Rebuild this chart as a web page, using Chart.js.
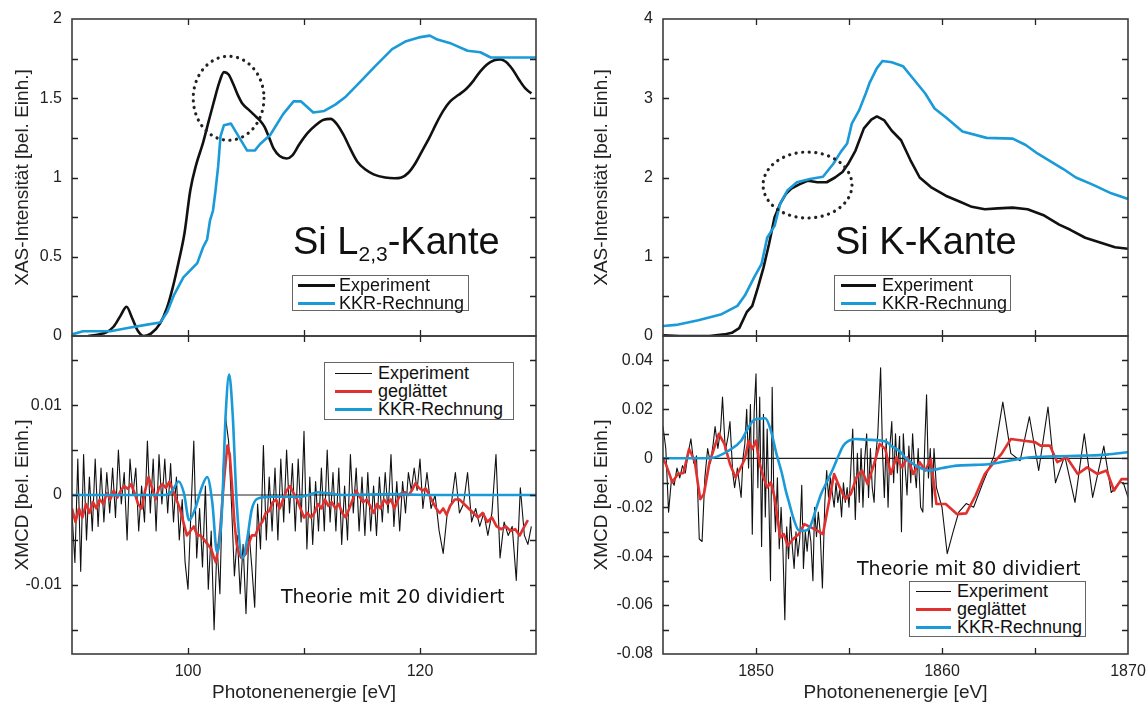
<!DOCTYPE html>
<html>
<head>
<meta charset="utf-8">
<script src="https://cdn.jsdelivr.net/npm/chart.js@4.4.0/dist/chart.umd.min.js"></script>
<style>
  html, body { margin: 0; padding: 0; background: #fff; }
  body { width: 1147px; height: 705px; overflow: hidden; position: relative; font-family: 'Liberation Sans', Arial, sans-serif; }
  .box { position: absolute; }
  .lg { position: absolute; border: 1px solid #666; background: #fff; box-sizing: border-box;
        font-size: 18px; color: #111; z-index: 5; }
  .row { height: 18px; line-height: 18px; display: flex; align-items: center; white-space: nowrap; }
  .smp { display: inline-block; height: 0; }
  .big { position: absolute; font-size: 38px; line-height: 38px; color: #111; white-space: nowrap; z-index: 5; }
  .big sub { font-size: 21px; vertical-align: -7px; line-height: 0; }
  .note { position: absolute; font-family: 'DejaVu Sans', Verdana, sans-serif; font-size: 19px; line-height: 19px;
          color: #111; white-space: nowrap; z-index: 5; }
</style>
</head>
<body>
<div class="box" style="left:0;top:0;width:560px;height:340px"><canvas id="lt"></canvas></div>
<div class="box" style="left:0;top:330px;width:560px;height:375px"><canvas id="lb"></canvas></div>
<div class="box" style="left:560px;top:0;width:620px;height:340px"><canvas id="rt"></canvas></div>
<div class="box" style="left:560px;top:330px;width:620px;height:375px"><canvas id="rb"></canvas></div>

<div class="big" style="left:293px;top:222px">Si L<sub>2,3</sub>-Kante</div>
<div class="big" style="left:835px;top:222px">Si K-Kante</div>

<div class="lg" style="left:292px;top:275px;width:177px;height:36px">
  <div class="row"><span class="smp" style="width:37px;margin:0 4px 0 5px;border-top:3px solid #111"></span>Experiment</div>
  <div class="row"><span class="smp" style="width:37px;margin:0 4px 0 5px;border-top:3px solid #1b9ad8"></span>KKR-Rechnung</div>
</div>
<div class="lg" style="left:834px;top:275px;width:177px;height:36px">
  <div class="row"><span class="smp" style="width:35px;margin:0 6px 0 6px;border-top:3px solid #111"></span>Experiment</div>
  <div class="row"><span class="smp" style="width:35px;margin:0 6px 0 6px;border-top:3px solid #1b9ad8"></span>KKR-Rechnung</div>
</div>
<div class="lg" style="left:324px;top:362px;width:190px;height:58px;padding-top:1px">
  <div class="row"><span class="smp" style="width:37px;margin:0 6px 0 10px;border-top:1.3px solid #111"></span>Experiment</div>
  <div class="row"><span class="smp" style="width:37px;margin:0 6px 0 10px;border-top:3px solid #e0312f"></span>geglättet</div>
  <div class="row"><span class="smp" style="width:37px;margin:0 6px 0 10px;border-top:3px solid #1b9ad8"></span>KKR-Rechnung</div>
</div>
<div class="lg" style="left:909px;top:581px;width:177px;height:56px">
  <div class="row"><span class="smp" style="width:35px;margin:0 6px 0 6px;border-top:1.3px solid #111"></span>Experiment</div>
  <div class="row"><span class="smp" style="width:35px;margin:0 6px 0 6px;border-top:3px solid #e0312f"></span>geglättet</div>
  <div class="row"><span class="smp" style="width:35px;margin:0 6px 0 6px;border-top:3px solid #1b9ad8"></span>KKR-Rechnung</div>
</div>

<div class="note" style="left:281px;top:587px">Theorie mit 20 dividiert</div>
<div class="note" style="left:857px;top:559px">Theorie mit 80 dividiert</div>

<script>
// Achsen
const lXRange = [90, 130];
const lXLabels = [100, 120];
const lXMarks = [100, 110, 120];
const rXRange = [1845, 1870];
const rXLabels = [1850, 1860, 1870];
const rXMarks = [1850, 1855, 1860, 1865];

const ltYRange = [0, 2];
const ltYLabels = [0, 0.5, 1, 1.5, 2];
const ltYMarks = [0.25, 0.5, 0.75, 1, 1.25, 1.5, 1.75];
const lbYRange = [-0.0177, 0.0177];
const lbYLabels = [-0.01, 0, 0.01];
const lbYMarks = [-0.015, -0.01, -0.005, 0, 0.005, 0.01, 0.015];
const rtYRange = [0, 4];
const rtYLabels = [0, 1, 2, 3, 4];
const rtYMarks = [0.5, 1, 1.5, 2, 2.5, 3, 3.5];
const rbYRange = [-0.08, 0.05];
const rbYLabels = [-0.08, -0.06, -0.04, -0.02, 0, 0.02, 0.04];
const rbYMarks = [-0.07, -0.06, -0.05, -0.04, -0.03, -0.02, -0.01, 0, 0.01, 0.02, 0.03, 0.04];

// Si L2,3-Kante, XAS
const ltExp = [[91.4,0.0],[92.3,0.01],[93.0,0.025],[93.6,0.06],[94.2,0.13],[94.7,0.185],[95.2,0.11],[95.7,0.03],
  [96.2,0.0],[96.8,0.015],[97.6,0.08],[98.2,0.18],[98.7,0.31],[99.2,0.47],[99.7,0.65],[100.2,0.92],[100.7,1.08],
  [101.3,1.22],[101.8,1.36],[102.2,1.47],[102.7,1.6],[103.1,1.665],[103.5,1.65],[103.9,1.59],[104.3,1.52],
  [104.7,1.465],[105.2,1.43],[105.7,1.395],[106.2,1.36],[106.6,1.32],[107.0,1.25],[107.4,1.18],[107.9,1.135],
  [108.5,1.12],[109.0,1.14],[109.6,1.21],[110.3,1.28],[111.0,1.33],[111.7,1.365],[112.3,1.37],[112.8,1.34],
  [113.4,1.27],[114.0,1.18],[114.6,1.10],[115.3,1.05],[116.0,1.02],[117.0,1.0],[117.8,0.995],[118.4,1.0],
  [119.0,1.03],[119.6,1.09],[120.2,1.17],[120.8,1.25],[121.4,1.34],[122.0,1.42],[122.6,1.48],[123.3,1.52],
  [124.0,1.56],[124.6,1.61],[125.2,1.67],[125.8,1.715],[126.4,1.74],[126.9,1.745],[127.4,1.73],[128.0,1.68],
  [128.6,1.61],[129.1,1.56],[129.6,1.53]];
const ltKkr = [[90.0,0.01],[90.95,0.03],[93.3,0.03],[94.8,0.05],[96.35,0.07],[97.6,0.085],[98.2,0.15],[98.8,0.26],
  [99.6,0.37],[100.8,0.46],[101.3,0.56],[101.65,0.61],[101.9,0.73],[102.15,0.79],[102.36,0.91],[102.6,1.07],
  [102.8,1.26],[103.1,1.33],[103.7,1.34],[104.4,1.255],[105.1,1.17],[105.75,1.17],[106.2,1.21],[107.1,1.27],
  [108.2,1.40],[109.1,1.48],[109.75,1.48],[110.8,1.41],[111.75,1.42],[112.7,1.46],[113.6,1.51],[114.8,1.60],
  [116.1,1.70],[117.6,1.81],[118.8,1.86],[119.9,1.884],[120.85,1.895],[121.5,1.87],[122.7,1.845],[124.1,1.80],
  [125.2,1.79],[126.1,1.757],[130.0,1.757]];

// Si L2,3-Kante, XMCD
const lbExp = [[90.0,-0.002],[90.25,-0.0075],[90.5,0.004],[90.75,-0.0085],[91.0,0.0045],[91.25,-0.005],[91.5,0.002],
  [91.75,-0.004],[92.0,0.004],[92.25,-0.0035],[92.5,0.003],[92.75,-0.003],[93.0,0.0025],[93.25,-0.002],[93.5,0.003],
  [93.75,-0.0025],[94.0,0.005],[94.25,-0.001],[94.5,0.0025],[94.75,-0.005],[95.0,0.004],[95.25,0.0],[95.5,0.003],
  [95.75,-0.004],[96.0,0.001],[96.25,-0.003],[96.5,0.006],[96.75,-0.002],[97.0,0.004],[97.25,-0.004],[97.5,0.0045],
  [97.75,-0.001],[98.0,0.004],[98.25,-0.002],[98.5,0.0035],[98.75,-0.003],[99.0,0.002],[99.25,-0.005],[99.5,-0.0005],
  [99.75,-0.0075],[100.0,-0.0105],[100.25,-0.002],[100.5,0.006],[100.75,-0.007],[101.0,-0.0015],[101.25,-0.008],
  [101.5,0.001],[101.75,-0.0105],[102.0,-0.004],[102.25,-0.015],[102.5,-0.0055],[102.75,-0.011],[103.0,0.002],
  [103.25,0.0085],[103.5,0.006],[103.75,-0.001],[104.0,-0.009],[104.25,-0.0045],[104.5,-0.011],[104.75,-0.0055],
  [105.0,-0.0132],[105.25,-0.004],[105.5,-0.008],[105.75,-0.0125],[106.0,-0.001],[106.25,-0.006],[106.5,0.0055],
  [106.75,-0.005],[107.0,0.002],[107.25,-0.004],[107.5,0.003],[107.75,-0.005],[108.0,0.004],[108.25,-0.003],
  [108.5,0.005],[108.75,-0.002],[109.0,0.0035],[109.25,-0.004],[109.5,0.004],[109.75,-0.003],[110.0,0.0071],
  [110.25,-0.006],[110.5,0.002],[110.75,-0.0055],[111.0,0.0015],[111.25,-0.004],[111.5,0.003],[111.75,-0.004],
  [112.0,0.005],[112.25,-0.003],[112.5,0.0025],[112.75,-0.004],[113.0,0.003],[113.25,-0.0055],[113.5,0.001],
  [113.75,-0.005],[114.0,0.0045],[114.25,-0.002],[114.5,0.003],[114.75,-0.004],[115.0,0.002],[115.25,-0.0045],
  [115.5,0.0025],[115.75,-0.004],[116.0,0.001],[116.25,-0.0045],[116.5,0.002],[116.75,-0.003],[117.0,0.0025],
  [117.25,-0.002],[117.5,0.0045],[117.75,-0.0035],[118.0,0.0015],[118.25,-0.004],[118.5,0.0015],[118.75,-0.002],
  [119.0,0.0025],[119.25,0.0005],[119.5,0.003],[119.75,0.0005],[120.0,0.004],[120.25,-0.0015],[120.6,0.0025],
  [120.95,-0.0015],[121.3,0.0],[121.65,-0.004],[122.0,-0.0065],[122.35,-0.002],[122.7,-0.001],[123.05,0.0025],
  [123.4,-0.002],[123.75,-0.001],[124.1,0.0025],[124.45,-0.003],[124.8,-0.0015],[125.15,-0.0035],[125.5,-0.002],
  [125.85,-0.0045],[126.2,-0.002],[126.55,0.0045],[126.9,-0.007],[127.25,-0.003],[127.6,-0.0045],[127.95,-0.0035],
  [128.3,-0.0095],[128.65,0.0008],[129.0,-0.0045],[129.3,-0.0055],[129.6,-0.0035]];
const lbSmooth = [[90.0,-0.0015],[90.3,-0.003],[90.6,-0.0015],[90.9,-0.0025],[91.2,-0.001],[91.5,-0.002],
  [91.8,-0.0008],[92.1,-0.0015],[92.4,-0.0005],[92.7,-0.001],[93.0,0.0002],[93.3,-0.0005],[93.6,0.0005],
  [93.9,-0.0003],[94.2,0.0005],[94.5,0.001],[94.8,0.0007],[95.1,0.0012],[95.4,0.0002],[95.7,-0.001],[96.0,-0.0015],
  [96.3,0.0005],[96.6,0.002],[96.9,0.0008],[97.2,-0.0005],[97.5,0.0008],[97.8,0.0012],[98.1,0.0008],[98.4,0.0015],
  [98.7,0.0005],[99.0,-0.0005],[99.3,-0.0015],[99.6,-0.003],[99.9,-0.0045],[100.2,-0.004],[100.5,-0.0035],
  [100.8,-0.0045],[101.1,-0.0045],[101.4,-0.005],[101.7,-0.0055],[102.0,-0.006],[102.2,-0.0068],[102.4,-0.0075],
  [102.6,-0.006],[102.8,-0.0035],[103.0,0.0],[103.2,0.003],[103.4,0.0055],[103.6,0.0045],[103.8,0.001],
  [104.0,-0.003],[104.2,-0.0055],[104.4,-0.0065],[104.6,-0.007],[104.8,-0.0068],[105.0,-0.0065],[105.2,-0.0055],
  [105.5,-0.0045],[105.8,-0.0045],[106.1,-0.0035],[106.4,-0.003],[106.7,-0.002],[107.0,-0.0018],[107.3,-0.0008],
  [107.6,-0.0005],[107.9,-0.0015],[108.2,-0.0005],[108.5,0.0005],[108.8,0.001],[109.1,0.0002],[109.4,-0.0005],
  [109.7,-0.0015],[110.0,-0.0025],[110.3,-0.002],[110.6,-0.0025],[110.9,-0.002],[111.2,-0.001],[111.5,-0.0015],
  [111.8,-0.0005],[112.1,-0.0012],[112.4,-0.0008],[112.7,-0.0015],[113.0,-0.001],[113.3,-0.002],[113.6,-0.0025],
  [113.9,-0.0015],[114.2,-0.0005],[114.5,0.0005],[114.8,-0.0002],[115.1,-0.0008],[115.4,-0.0005],[115.7,-0.0012],
  [116.0,-0.002],[116.3,-0.001],[116.6,-0.0015],[116.9,-0.0005],[117.2,-0.001],[117.5,-0.0005],[117.8,-0.0015],
  [118.1,-0.0005],[118.4,0.0002],[118.7,0.0003],[119.0,0.0],[119.3,0.0005],[119.6,0.0013],[119.9,0.0008],
  [120.2,0.0005],[120.5,0.0007],[120.8,0.0],[121.1,-0.0008],[121.4,-0.0015],[121.7,-0.002],[122.0,-0.0015],
  [122.3,-0.0022],[122.6,-0.0012],[123.0,-0.0005],[123.4,-0.0005],[123.8,-0.001],[124.2,-0.0015],[124.6,-0.002],
  [125.0,-0.0025],[125.4,-0.002],[125.8,-0.003],[126.2,-0.0025],[126.6,-0.0035],[127.0,-0.0038],[127.4,-0.0035],
  [127.8,-0.004],[128.2,-0.0038],[128.6,-0.0045],[129.0,-0.0035],[129.3,-0.0028]];
const lbKkr = [[90,0],[98.0,0],[98.6,0.0004],[99.2,0.0015],[99.65,0.0002],[100.1,-0.0028],[100.6,-0.0016],
  [101.2,0.0009],[101.65,0.002],[102.1,-0.0009],[102.5,-0.0064],[102.9,-0.0024],[103.25,0.009],[103.55,0.0134],
  [103.85,0.009],[104.2,-0.0009],[104.7,-0.007],[105.05,-0.0053],[105.5,-0.0016],[106.0,-0.0004],[107.2,-0.0002],
  [108.4,-0.0002],[109.65,-0.0002],[110.4,0],[111.2,0.0003],[112.1,0.0002],[113.35,0],[117.65,0.0001],
  [120.75,0],[130,0]];

// Si K-Kante, XAS
const rtExp = [[1845,0.01],[1845.9,0.0],[1847.5,0.0],[1848.3,0.02],[1848.7,0.04],[1849.1,0.1],[1849.5,0.3],
  [1849.8,0.38],[1850.1,0.61],[1850.4,0.86],[1850.7,1.16],[1851.0,1.50],[1851.3,1.67],[1851.6,1.79],[1851.9,1.86],
  [1852.3,1.91],[1852.8,1.96],[1853.3,1.94],[1853.8,1.94],[1854.25,2.0],[1854.65,2.07],[1854.95,2.17],[1855.35,2.34],
  [1855.8,2.62],[1856.2,2.73],[1856.5,2.77],[1856.9,2.72],[1857.3,2.59],[1857.8,2.47],[1858.3,2.22],[1858.8,2.0],
  [1859.4,1.88],[1860.2,1.77],[1861.0,1.69],[1861.6,1.63],[1862.3,1.60],[1863.0,1.61],[1863.8,1.62],[1864.6,1.60],
  [1865.5,1.52],[1866.3,1.405],[1866.9,1.34],[1867.7,1.24],[1868.5,1.18],[1869.3,1.12],[1870,1.10]];
const rtKkr = [[1845,0.127],[1845.7,0.14],[1846.9,0.20],[1848.1,0.27],[1849.0,0.38],[1849.4,0.51],[1849.9,0.74],
  [1850.3,0.91],[1850.6,1.24],[1851.0,1.39],[1851.3,1.67],[1851.7,1.84],[1852.2,1.94],[1852.9,1.98],[1853.6,2.01],
  [1854.15,2.17],[1854.55,2.32],[1854.9,2.43],[1855.15,2.68],[1855.55,2.85],[1855.9,3.06],[1856.1,3.19],
  [1856.5,3.38],[1856.8,3.47],[1857.3,3.455],[1857.9,3.405],[1858.3,3.29],[1859.1,3.06],[1859.6,2.87],
  [1860.2,2.76],[1861.1,2.58],[1862.4,2.50],[1863.8,2.49],[1864.5,2.41],[1865.15,2.30],[1866.5,2.11],
  [1867.2,2.0],[1868.1,1.91],[1869.1,1.80],[1870,1.73]];

// Si K-Kante, XMCD
const rbExp = [[1845.0,0.013],[1845.15,0.004],[1845.3,-0.022],[1845.45,-0.009],[1845.6,-0.011],[1845.75,-0.004],
  [1845.9,-0.008],[1846.05,-0.003],[1846.2,-0.006],[1846.35,0.002],[1846.5,0.008],[1846.65,-0.002],[1846.8,0.001],
  [1846.95,-0.033],[1847.1,-0.034],[1847.25,-0.008],[1847.4,0.004],[1847.55,-0.002],[1847.7,0.006],[1847.8,0.013],
  [1847.95,0.004],[1848.1,0.012],[1848.2,0.025],[1848.35,0.003],[1848.5,0.009],[1848.6,0.015],[1848.75,-0.006],
  [1848.85,-0.012],[1849.0,-0.004],[1849.1,-0.01],[1849.2,-0.016],[1849.3,0.0],[1849.4,0.006],[1849.5,0.02],
  [1849.6,-0.004],[1849.7,0.022],[1849.8,-0.031],[1849.9,0.019],[1850.0,0.0345],[1850.1,-0.012],[1850.2,0.025],
  [1850.3,-0.036],[1850.4,0.018],[1850.5,-0.024],[1850.6,0.012],[1850.7,-0.02],[1850.78,-0.05],[1850.87,0.029],
  [1850.95,-0.012],[1851.05,-0.03],[1851.15,-0.008],[1851.25,-0.037],[1851.35,-0.02],[1851.45,-0.038],
  [1851.55,-0.066],[1851.65,-0.028],[1851.75,-0.041],[1851.85,-0.024],[1851.95,-0.036],[1852.05,-0.045],
  [1852.15,-0.03],[1852.25,-0.04],[1852.35,-0.033],[1852.46,-0.011],[1852.55,-0.045],[1852.65,-0.03],
  [1852.75,-0.038],[1852.85,-0.028],[1852.95,-0.034],[1853.06,-0.05],[1853.15,-0.02],[1853.25,-0.032],
  [1853.35,-0.022],[1853.45,-0.03],[1853.57,-0.053],[1853.7,-0.018],[1853.8,-0.005],[1853.9,-0.016],[1854.0,-0.008],
  [1854.1,-0.014],[1854.2,-0.02],[1854.3,-0.01],[1854.4,-0.018],[1854.5,-0.013],[1854.6,-0.024],[1854.7,-0.01],
  [1854.8,-0.018],[1854.9,-0.012],[1855.0,-0.02],[1855.1,-0.004],[1855.2,0.012],[1855.34,-0.025],[1855.45,0.002],
  [1855.55,-0.018],[1855.65,0.004],[1855.75,-0.02],[1855.85,0.0],[1855.95,0.01],[1856.05,-0.016],[1856.15,0.004],
  [1856.25,-0.012],[1856.35,-0.018],[1856.45,0.002],[1856.55,0.01],[1856.7,0.037],[1856.8,0.003],[1856.9,-0.016],
  [1857.0,0.008],[1857.1,-0.02],[1857.2,0.005],[1857.3,0.015],[1857.4,-0.01],[1857.5,0.01],[1857.6,-0.006],
  [1857.72,0.009],[1857.82,-0.03],[1857.92,0.01],[1858.02,-0.004],[1858.12,-0.015],[1858.22,0.005],[1858.32,-0.01],
  [1858.42,0.01],[1858.52,-0.004],[1858.62,-0.012],[1858.72,0.004],[1858.85,-0.02],[1858.97,-0.022],[1859.07,0.005],
  [1859.17,0.026],[1859.27,-0.008],[1859.37,0.004],[1859.47,-0.02],[1859.57,0.004],[1859.7,-0.012],[1860.0,-0.02],
  [1860.28,-0.039],[1860.6,-0.03],[1860.9,-0.022],[1861.3,-0.0185],[1861.7,-0.02],[1862.2,-0.01],[1862.8,0.001],
  [1863.27,0.023],[1863.7,0.002],[1864.2,-0.001],[1864.7,0.017],[1865.2,-0.005],[1865.7,0.021],[1866.1,-0.01],
  [1866.6,0.001],[1867.15,-0.018],[1867.65,0.01],[1868.1,-0.016],[1868.7,0.005],[1869.1,-0.014],[1869.5,-0.01],
  [1869.75,-0.01],[1870.0,-0.016]];
const rbSmooth = [[1845,-0.0003],[1845.15,-0.0023],[1845.5,-0.0098],[1845.8,-0.0064],[1846.1,-0.006],[1846.4,0.0038],
  [1846.7,-0.001],[1847.0,-0.0167],[1847.2,-0.0146],[1847.5,-0.0016],[1847.7,0.003],[1848.0,0.01],[1848.3,0.0059],
  [1848.6,-0.0023],[1848.9,-0.0078],[1849.1,-0.005],[1849.4,-0.0003],[1849.6,0.0072],[1849.8,0.0038],[1850.0,0.0072],
  [1850.2,-0.0023],[1850.4,-0.0078],[1850.6,-0.0119],[1850.8,-0.0098],[1851.0,-0.016],[1851.3,-0.0324],
  [1851.5,-0.031],[1851.7,-0.0358],[1852.0,-0.033],[1852.3,-0.031],[1852.6,-0.0269],[1852.9,-0.028],[1853.3,-0.0296],
  [1853.6,-0.031],[1853.9,-0.0187],[1854.2,-0.0064],[1854.5,-0.0119],[1854.8,-0.0167],[1855.1,-0.0146],
  [1855.4,-0.0078],[1855.7,-0.005],[1856.0,-0.0105],[1856.35,-0.0023],[1856.65,0.0059],[1856.95,0.0038],
  [1857.25,-0.0064],[1857.55,0.0004],[1857.85,-0.0037],[1858.15,0.0004],[1858.45,-0.0064],[1858.8,-0.0016],
  [1859.1,-0.005],[1859.4,-0.0003],[1859.7,-0.0187],[1860.2,-0.0187],[1860.8,-0.0228],[1861.3,-0.0225],
  [1861.8,-0.0153],[1862.3,-0.0064],[1862.8,-0.0016],[1863.2,0.0018],[1863.7,0.0079],[1864.4,0.0072],
  [1865.0,0.0066],[1865.3,0.0052],[1865.8,0.0052],[1866.2,-0.0016],[1866.7,0.0004],[1867.3,-0.0064],
  [1867.8,-0.0037],[1868.35,-0.0064],[1868.85,-0.005],[1869.25,-0.0132],[1869.65,-0.0085],[1870,-0.0085]];
const rbKkr = [[1845,0],[1847.5,0],[1847.9,0.0007],[1848.5,0.003],[1849.2,0.0072],[1849.6,0.0127],[1849.9,0.0157],
  [1850.5,0.0164],[1850.8,0.0113],[1851.1,0.0018],[1851.4,-0.0064],[1851.6,-0.0132],[1851.8,-0.0187],
  [1852.0,-0.0242],[1852.3,-0.0294],[1852.6,-0.0296],[1852.9,-0.028],[1853.2,-0.0214],[1853.5,-0.0146],
  [1853.8,-0.0098],[1854.1,-0.005],[1854.4,0.0004],[1854.7,0.0052],[1855.0,0.0072],[1855.35,0.0079],
  [1855.95,0.0076],[1857.0,0.0068],[1857.25,0.0052],[1857.7,0.0031],[1858.1,-0.0003],[1858.6,-0.003],
  [1859.3,-0.005],[1860.0,-0.004],[1860.8,-0.003],[1861.8,-0.0027],[1862.6,-0.0023],[1863.6,-0.001],
  [1864.8,0.0004],[1866.0,0.0008],[1867.6,0.0011],[1868.85,0.0015],[1870,0.0025]];

// gepunktete Markierungen (Mittelpunkt und Halbachsen in Dateneinheiten)
const ltCircle = { cx: 103.5, cy: 1.50, rx: 3.05, ry: 0.265 };
const rtCircle = { cx: 1852.77, cy: 1.905, rx: 2.39, ry: 0.416 };

const BLACK = '#111111', BLUE = '#1b9ad8', RED = '#e0312f';

Chart.defaults.font.family = "'Liberation Sans', Arial, sans-serif";
Chart.defaults.color = '#222';

const toXY = (arr) => arr.map((p) => ({ x: p[0], y: p[1] }));

// Rahmen mit Teilstrichen nach innen + gepunktete Ellipse
const framePlugin = {
  id: 'frame',
  afterDatasetsDraw(chart, args, opts) {
    const { ctx, chartArea: a, scales } = chart;
    const sx = scales.x, sy = scales.y;
    ctx.save();
    if (opts.ellipse) {
      const e = opts.ellipse;
      const cx = sx.getPixelForValue(e.cx), cy = sy.getPixelForValue(e.cy);
      const rx = Math.abs(sx.getPixelForValue(e.cx + e.rx) - cx);
      const ry = Math.abs(sy.getPixelForValue(e.cy + e.ry) - cy);
      ctx.beginPath();
      ctx.setLineDash([0.1, 6.5]);
      ctx.lineCap = 'round';
      ctx.lineWidth = 3.2;
      ctx.strokeStyle = '#222';
      ctx.ellipse(cx, cy, rx, ry, 0, 0, Math.PI * 2);
      ctx.stroke();
      ctx.setLineDash([]);
      ctx.lineCap = 'butt';
    }
    ctx.strokeStyle = '#3c3c3c';
    ctx.lineWidth = 1.6;
    ctx.strokeRect(a.left, a.top, a.right - a.left, a.bottom - a.top);
    ctx.lineWidth = 1.3;
    ctx.strokeStyle = '#222';
    ctx.beginPath();
    opts.xMarks.forEach((v) => {
      if (v <= sx.min || v >= sx.max) return;
      const px = Math.round(sx.getPixelForValue(v)) + 0.5;
      ctx.moveTo(px, a.bottom); ctx.lineTo(px, a.bottom - 6);
      ctx.moveTo(px, a.top); ctx.lineTo(px, a.top + 6);
    });
    opts.yMarks.forEach((v) => {
      if (v <= sy.min || v >= sy.max) return;
      const py = Math.round(sy.getPixelForValue(v)) + 0.5;
      ctx.moveTo(a.left, py); ctx.lineTo(a.left + 6, py);
      ctx.moveTo(a.right, py); ctx.lineTo(a.right - 6, py);
    });
    ctx.stroke();
    ctx.restore();
  },
};

function yScale(range, labels, title, width, titlePad) {
  return {
    type: 'linear', min: range[0], max: range[1],
    afterBuildTicks: (ax) => { ax.ticks = labels.map((v) => ({ value: v })); },
    // feste Breite, keine Zusatzabstände für überstehende Beschriftungen
    afterFit: (ax) => { ax.width = width; ax.paddingTop = 0; ax.paddingBottom = 0; },
    grid: { display: false, drawTicks: false },
    border: { display: false },
    ticks: { padding: 10, autoSkip: false, font: { size: 16 }, color: '#222', callback: (v) => String(v) },
    title: { display: true, text: title, color: '#222', font: { size: 19 }, padding: { top: titlePad, bottom: 0 } },
  };
}

function xScale(range, labels, shown) {
  return {
    type: 'linear', min: range[0], max: range[1], display: shown,
    afterBuildTicks: (ax) => { ax.ticks = labels.map((v) => ({ value: v })); },
    afterFit: (ax) => {
      if (shown) ax.height = 51;
      ax.paddingLeft = 0; ax.paddingRight = 0;
    },
    grid: { display: false, drawTicks: false },
    border: { display: false },
    ticks: { padding: 8, autoSkip: false, maxRotation: 0, font: { size: 16 }, color: '#222', callback: (v) => String(v) },
    title: { display: true, text: 'Photonenenergie [eV]', color: '#222', font: { size: 19 }, padding: { top: 0, bottom: 1 } },
  };
}

function line(data, color, width, smooth) {
  return {
    data: toXY(data), borderColor: color, borderWidth: width, pointRadius: 0,
    borderJoinStyle: 'round', tension: 0, cubicInterpolationMode: smooth ? 'monotone' : 'default',
    fill: false,
  };
}

function zeroLine(range) {
  return line([[range[0], 0], [range[1], 0]], '#222', 1.2, false);
}

function makePanel(id, datasets, xs, ys, padding, frameOpts) {
  return new Chart(document.getElementById(id).getContext('2d'), {
    type: 'line',
    data: { datasets },
    options: {
      responsive: true, maintainAspectRatio: false, animation: false,
      layout: { padding },
      scales: { x: xs, y: ys },
      plugins: { legend: { display: false }, tooltip: { enabled: false }, frame: frameOpts },
      events: [],
    },
    plugins: [framePlugin],
  });
}

// linke Spalte
makePanel('lt',
  [line(ltKkr, BLUE, 2.6, false), line(ltExp, BLACK, 2.6, true)],
  xScale(lXRange, lXLabels, false),
  yScale(ltYRange, ltYLabels, 'XAS-Intensität [bel. Einh.]', 72, 11),
  { left: 0, right: 24, top: 19, bottom: 4 },
  { xMarks: lXMarks, yMarks: ltYMarks, ellipse: ltCircle });

makePanel('lb',
  [line(lbKkr, BLUE, 2.6, true), line(lbSmooth, RED, 2.6, false), line(lbExp, BLACK, 1.1, false), zeroLine(lXRange)],
  xScale(lXRange, lXLabels, true),
  yScale(lbYRange, lbYLabels, 'XMCD [bel. Einh.]', 72, 11),
  { left: 0, right: 24, top: 6, bottom: 0 },
  { xMarks: lXMarks, yMarks: lbYMarks });

// rechte Spalte
makePanel('rt',
  [line(rtKkr, BLUE, 2.6, false), line(rtExp, BLACK, 2.6, false)],
  xScale(rXRange, rXLabels, false),
  yScale(rtYRange, rtYLabels, 'XAS-Intensität [bel. Einh.]', 103, 30),
  { left: 0, right: 52, top: 19, bottom: 4 },
  { xMarks: rXMarks, yMarks: rtYMarks, ellipse: rtCircle });

makePanel('rb',
  [line(rbKkr, BLUE, 2.6, true), line(rbSmooth, RED, 2.6, false), line(rbExp, BLACK, 1.1, false), zeroLine(rXRange)],
  xScale(rXRange, rXLabels, true),
  yScale(rbYRange, rbYLabels, 'XMCD [bel. Einh.]', 103, 30),
  { left: 0, right: 52, top: 6, bottom: 0 },
  { xMarks: rXMarks, yMarks: rbYMarks });
</script>
</body>
</html>
